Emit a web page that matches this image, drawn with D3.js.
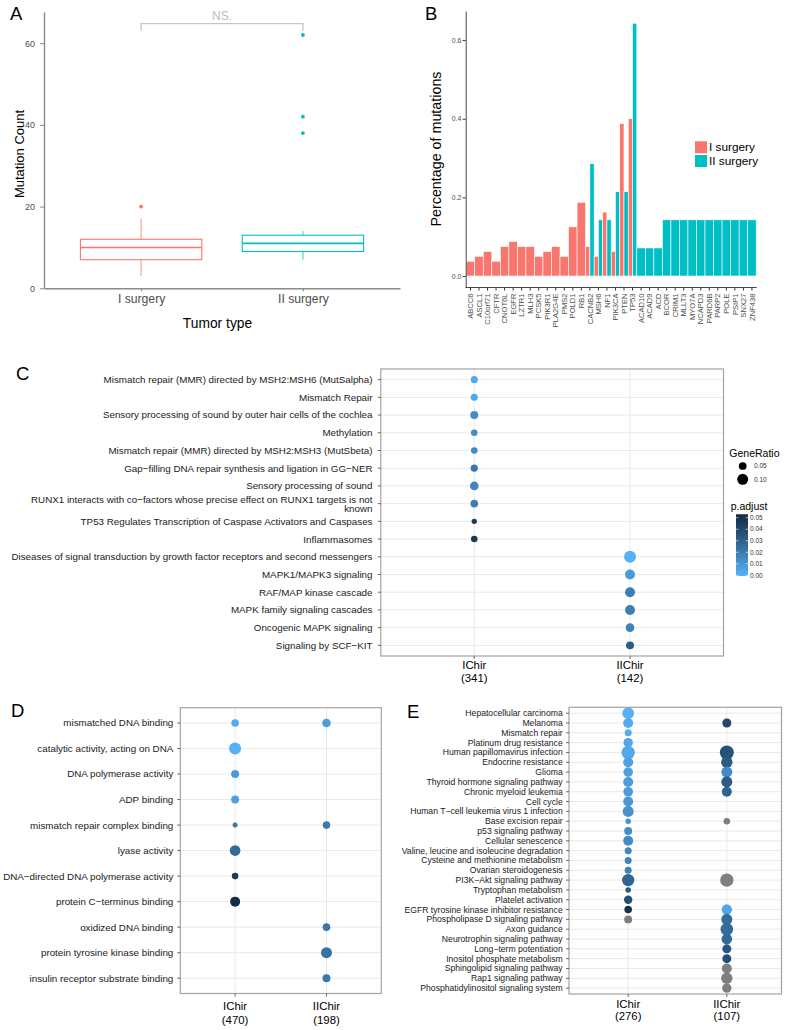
<!DOCTYPE html>
<html><head><meta charset="utf-8">
<script src="https://cdn.jsdelivr.net/npm/d3@7"></script>
<style>
body{margin:0;background:#fff}
svg{display:block}
text{font-family:"Liberation Sans",Arial,Helvetica,sans-serif}
</style>
</head><body>
<svg id="chart" width="788" height="1030"></svg>
<script>
// ---------- Panel A data ----------
const surgeryGroups = ["I surgery", "II surgery"];
const boxQ1 = [7, 9];
const boxMedian = [10, 11];
const boxQ3 = [12, 13];
const whiskerLow = [3, 7];
const whiskerHigh = [17, 14];
const outliersI = [20];
const outliersII = [38, 42, 62];
const countTicks = [0, 20, 40, 60];

// ---------- Panel B data ----------
const genes = ["ABCC6","ASCL1","C10orf71","CFTR","CNOT6L","EGFR","LZTR1","MLH3","PCSK5","PIK3R1","PLA2G4E","PMS2","POLD1","RB1","CACNB2","MSH6","NF1","PIK3CA","PTEN","TP53","ACAD10","ACAD9","ACD","BCOR","CRIM1","MLLT3","MYO7A","NCAPD3","PARD6B","PARP2","POLE","PSIP1","SNX27","ZNF438"];
const pctISurgery = [0.0375,0.05,0.0625,0.0375,0.075,0.0875,0.075,0.075,0.05,0.0625,0.075,0.05,0.125,0.1875,0.075,0.05,0.1625,0.0625,0.3875,0.40,null,null,null,null,null,null,null,null,null,null,null,null,null,null];
const pctIISurgery = [null,null,null,null,null,null,null,null,null,null,null,null,null,null,0.2857,0.1429,0.1429,0.2143,0.2143,0.6429,0.0714,0.0714,0.0714,0.1429,0.1429,0.1429,0.1429,0.1429,0.1429,0.1429,0.1429,0.1429,0.1429,0.1429];
const pctTicks = [0, 0.2, 0.4, 0.6];

// ---------- Panel C data (Reactome) ----------
const reactomeTerms = [
 "Mismatch repair (MMR) directed by MSH2:MSH6 (MutSalpha)",
 "Mismatch Repair",
 "Sensory processing of sound by outer hair cells of the cochlea",
 "Methylation",
 "Mismatch repair (MMR) directed by MSH2:MSH3 (MutSbeta)",
 "Gap\u2212filling DNA repair synthesis and ligation in GG\u2212NER",
 "Sensory processing of sound",
 "RUNX1 interacts with co\u2212factors whose precise effect on RUNX1 targets is not\nknown",
 "TP53 Regulates Transcription of Caspase Activators and Caspases",
 "Inflammasomes",
 "Diseases of signal transduction by growth factor receptors and second messengers",
 "MAPK1/MAPK3 signaling",
 "RAF/MAP kinase cascade",
 "MAPK family signaling cascades",
 "Oncogenic MAPK signaling",
 "Signaling by SCF\u2212KIT"];
const reactomeClusterLabels = ["IChir\n(341)", "IIChir\n(142)"];
const reactomeDotTerm = [0,1,2,3,4,5,6,7,8,9,10,11,12,13,14,15];
const reactomeDotCluster = ["IChir","IChir","IChir","IChir","IChir","IChir","IChir","IChir","IChir","IChir","IIChir","IIChir","IIChir","IIChir","IIChir","IIChir"];
const reactomeDotRatio = [0.041,0.041,0.053,0.036,0.036,0.043,0.062,0.048,0.024,0.036,0.12,0.083,0.083,0.083,0.062,0.053];
const reactomeDotPadj = [0.003,0.004,0.013,0.013,0.014,0.021,0.016,0.019,0.045,0.047,0.0,0.008,0.019,0.018,0.017,0.033];

// ---------- Panel D data (GO) ----------
const goTerms = ["mismatched DNA binding","catalytic activity, acting on DNA","DNA polymerase activity","ADP binding","mismatch repair complex binding","lyase activity","DNA\u2212directed DNA polymerase activity","protein C\u2212terminus binding","oxidized DNA binding","protein tyrosine kinase binding","insulin receptor substrate binding"];
const goClusterLabels = ["IChir\n(470)", "IIChir\n(198)"];
const goDotTerm = [0,0,1,2,3,4,4,5,6,7,8,9,10];
const goDotCluster = ["IChir","IIChir","IChir","IChir","IChir","IChir","IIChir","IChir","IChir","IChir","IIChir","IIChir","IIChir"];
const goDotRatio = [0.048,0.062,0.12,0.053,0.053,0.021,0.048,0.094,0.036,0.083,0.048,0.101,0.053];
const goDotPadj = [0.002,0.007,0.0,0.008,0.006,0.022,0.020,0.027,0.046,0.052,0.021,0.023,0.021];

// ---------- Panel E data (KEGG) ----------
const keggTerms = ["Hepatocellular carcinoma","Melanoma","Mismatch repair","Platinum drug resistance","Human papillomavirus infection","Endocrine resistance","Glioma","Thyroid hormone signaling pathway","Chronic myeloid leukemia","Cell cycle","Human T\u2212cell leukemia virus 1 infection","Base excision repair","p53 signaling pathway","Cellular senescence","Valine, leucine and isoleucine degradation","Cysteine and methionine metabolism","Ovarian steroidogenesis","PI3K\u2212Akt signaling pathway","Tryptophan metabolism","Platelet activation","EGFR tyrosine kinase inhibitor resistance","Phospholipase D signaling pathway","Axon guidance","Neurotrophin signaling pathway","Long\u2212term potentiation","Inositol phosphate metabolism","Sphingolipid signaling pathway","Rap1 signaling pathway","Phosphatidylinositol signaling system"];
const keggClusterLabels = ["IChir\n(276)", "IIChir\n(107)"];
const keggDotTerm = [0,1,2,3,4,5,6,7,8,9,10,11,12,13,14,15,16,17,18,19,20,21, 1,4,5,6,7,8,11,17,20,21,22,23,24,25,26,27,28];
const keggDotCluster = ["IChir","IChir","IChir","IChir","IChir","IChir","IChir","IChir","IChir","IChir","IChir","IChir","IChir","IChir","IChir","IChir","IChir","IChir","IChir","IChir","IChir","IChir",
 "IIChir","IIChir","IIChir","IIChir","IIChir","IIChir","IIChir","IIChir","IIChir","IIChir","IIChir","IIChir","IIChir","IIChir","IIChir","IIChir","IIChir"];
const keggDotRatio = [0.115,0.083,0.041,0.074,0.15,0.083,0.077,0.083,0.077,0.083,0.101,0.026,0.053,0.083,0.041,0.041,0.041,0.128,0.026,0.059,0.048,0.053,
 0.068,0.163,0.108,0.101,0.101,0.083,0.036,0.15,0.09,0.101,0.132,0.094,0.068,0.068,0.083,0.108,0.074];
const keggDotPadj = [0.0,0.002,0.002,0.004,0.003,0.006,0.006,0.007,0.008,0.009,0.011,0.011,0.013,0.014,0.015,0.016,0.017,0.028,0.032,0.037,0.050,null,
 0.040,0.036,0.033,0.014,0.032,0.029,null,null,0.004,0.026,0.026,0.027,0.034,0.038,null,null,null];

// ---------- Legend data ----------
const geneRatioLegend = [0.05, 0.10];
const padjTicks = [0, 0.01, 0.02, 0.03, 0.04, 0.05];

// ================= Drawing =================
const svg = d3.select("#chart");
const RED = "#F8766D", TEAL = "#00BFC4";
const rScale = d3.scaleSqrt().domain([0, 0.12]).range([0, 6]);
const padjColor = d3.scaleLinear().domain([0, 0.053]).range(["#56B1F7", "#132B43"]).interpolate(d3.interpolateLab).clamp(true);
const NA_COLOR = "#7F7F7F";

// Panel letters
[["A", 10, 20], ["B", 425, 20], ["C", 16, 380], ["D", 11, 717], ["E", 407, 718]].forEach(([t, x, y]) => {
  svg.append("text").attr("x", x).attr("y", y).attr("font-size", 18.5).attr("fill", "#000").text(t);
});

// ----- Panel A -----
(function () {
  const g = svg.append("g");
  const x = d3.scalePoint().domain(surgeryGroups).range([44, 400]).padding(0.6);
  const y = d3.scaleLinear().domain([0, 67.7]).range([288.3, 11.7]);
  const cols = [RED, TEAL];
  const bw = x.step() * 0.75;

  const ya = g.append("g").attr("transform", "translate(44,0)")
    .call(d3.axisLeft(y).tickValues(countTicks).tickSize(4).tickSizeOuter(0).tickPadding(5));
  ya.select(".domain").attr("stroke", "#8a8a8a").attr("stroke-width", 1.4);
  ya.selectAll(".tick line").attr("stroke", "#8a8a8a");
  ya.selectAll(".tick text").attr("font-size", 9).attr("fill", "#4d4d4d").attr("font-family", null);

  const xa = g.append("g").attr("transform", "translate(0,288.3)")
    .call(d3.axisBottom(x).tickSize(3).tickSizeOuter(0).tickPadding(2.7));
  xa.select(".domain").attr("stroke", "#8a8a8a").attr("stroke-width", 1.4);
  xa.selectAll(".tick line").attr("stroke", "#8a8a8a");
  xa.selectAll(".tick text").attr("font-size", 12.2).attr("fill", "#4d4d4d").attr("font-family", null);

  surgeryGroups.forEach((grp, i) => {
    const cx = x(grp), c = cols[i];
    g.append("line").attr("x1", cx).attr("x2", cx).attr("y1", y(whiskerLow[i])).attr("y2", y(boxQ1[i])).attr("stroke", c).attr("stroke-width", 1).attr("opacity", 0.8);
    g.append("line").attr("x1", cx).attr("x2", cx).attr("y1", y(boxQ3[i])).attr("y2", y(whiskerHigh[i])).attr("stroke", c).attr("stroke-width", 1).attr("opacity", 0.8);
    g.append("rect").attr("x", cx - bw / 2).attr("y", y(boxQ3[i])).attr("width", bw).attr("height", y(boxQ1[i]) - y(boxQ3[i]))
      .attr("fill", "#fff").attr("stroke", c).attr("stroke-width", 1.1);
    g.append("line").attr("x1", cx - bw / 2).attr("x2", cx + bw / 2).attr("y1", y(boxMedian[i])).attr("y2", y(boxMedian[i])).attr("stroke", c).attr("stroke-width", 1.6);
    const outs = i === 0 ? outliersI : outliersII;
    g.selectAll(null).data(outs).join("circle").attr("cx", cx).attr("cy", d => y(d)).attr("r", 1.9).attr("fill", c);
  });

  // NS bracket
  const x1 = x(surgeryGroups[0]), x2 = x(surgeryGroups[1]);
  g.append("path").attr("d", `M${x1},${y(63)}V${y(64.8)}H${x2}V${y(63)}`).attr("fill", "none").attr("stroke", "#c6c6c6").attr("stroke-width", 1.3);
  g.append("text").attr("x", (x1 + x2) / 2).attr("y", 19.5).attr("text-anchor", "middle").attr("font-size", 12).attr("fill", "#bdbdbd").text("NS.");

  g.append("text").attr("transform", "translate(24,154) rotate(-90)").attr("text-anchor", "middle").attr("font-size", 13).attr("fill", "#000").text("Mutation Count");
  g.append("text").attr("x", 217.5).attr("y", 327.6).attr("text-anchor", "middle").attr("font-size", 13.8).attr("fill", "#000").text("Tumor type");
})();

// ----- Panel B -----
(function () {
  const g = svg.append("g");
  const x = d3.scaleBand().domain(genes).range([466.2, 756.2]).padding(0);
  const y = d3.scaleLinear().domain([-0.0292, 0.674]).range([287.5, 11]);
  const bw = x.bandwidth();
  const bars = [];
  genes.forEach((gname, i) => {
    const a = pctISurgery[i], b = pctIISurgery[i];
    const x0 = x(gname);
    if (a != null && b != null) {
      bars.push({ x: x0, w: bw / 2, v: a, c: RED });
      bars.push({ x: x0 + bw / 2, w: bw / 2, v: b, c: TEAL });
    } else if (a != null) bars.push({ x: x0, w: bw, v: a, c: RED });
    else if (b != null) bars.push({ x: x0, w: bw, v: b, c: TEAL });
  });
  g.selectAll("rect").data(bars).join("rect")
    .attr("x", d => d.x).attr("width", d => d.w)
    .attr("y", d => y(d.v)).attr("height", d => y(0) - y(d.v))
    .attr("fill", d => d.c).attr("stroke", "#fff").attr("stroke-width", 0.6);

  const ya = g.append("g").attr("transform", "translate(465.7,0)")
    .call(d3.axisLeft(y).tickValues(pctTicks).tickFormat(d3.format(".1f")).tickSize(3).tickSizeOuter(0).tickPadding(1.2));
  ya.select(".domain").attr("stroke", "#333").attr("stroke-width", 0.9);
  ya.selectAll(".tick line").attr("stroke", "#333");
  ya.selectAll(".tick text").attr("font-size", 7).attr("fill", "#4d4d4d").attr("font-family", null);

  const xa = g.append("g").attr("transform", "translate(0,287.5)")
    .call(d3.axisBottom(x).tickSize(3).tickSizeOuter(0));
  xa.select(".domain").attr("stroke", "#333").attr("stroke-width", 0.9).attr("d", "M465.7,0H756.7");
  xa.selectAll(".tick line").attr("stroke", "#333");
  xa.selectAll(".tick text").attr("font-size", 7.6).attr("fill", "#4d4d4d").attr("font-family", null)
    .attr("transform", "rotate(-90)").attr("text-anchor", "end").attr("x", -6).attr("y", 0).attr("dy", "0.35em");

  g.append("text").attr("transform", "translate(440.5,149) rotate(-90)").attr("text-anchor", "middle").attr("font-size", 14.3).attr("fill", "#000").text("Percentage of mutations");

  const legItems = [["I surgery", RED, 141.3], ["II surgery", TEAL, 155]];
  legItems.forEach(([t, c, yy]) => {
    g.append("rect").attr("x", 695).attr("y", yy).attr("width", 12).attr("height", 12).attr("fill", c);
    g.append("text").attr("x", 709).attr("y", yy + 6).attr("dy", "0.35em").attr("font-size", 11.8).attr("fill", "#000").text(t);
  });
})();

// ----- Dot panels -----
function dotPanel(o) {
  const g = svg.append("g");
  const x = d3.scalePoint().domain(["IChir", "IIChir"]).range(o.xRange).padding(0.6);
  const y = d3.scalePoint().domain(o.terms).range([o.top, o.bottom]).padding(0.6);
  const gg = g.append("g");
  gg.selectAll("line.h").data(o.terms).join("line").attr("class", "h")
    .attr("x1", o.left).attr("x2", o.right).attr("y1", d => y(d)).attr("y2", d => y(d))
    .attr("stroke", "#e9e9e9").attr("stroke-width", 1);
  gg.selectAll("line.v").data(x.domain()).join("line").attr("class", "v")
    .attr("x1", d => x(d)).attr("x2", d => x(d)).attr("y1", o.top).attr("y2", o.bottom)
    .attr("stroke", "#e9e9e9").attr("stroke-width", 1);
  g.append("g").selectAll("circle").data(d3.range(o.dotTerm.length)).join("circle")
    .attr("cx", i => x(o.dotCluster[i]))
    .attr("cy", i => y(o.terms[o.dotTerm[i]]))
    .attr("r", i => rScale(o.dotRatio[i]))
    .attr("fill", i => o.dotPadj[i] == null ? NA_COLOR : padjColor(o.dotPadj[i]));
  g.append("rect").attr("x", o.left).attr("y", o.top).attr("width", o.right - o.left).attr("height", o.bottom - o.top)
    .attr("fill", "none").attr("stroke", "#a3a3a3").attr("stroke-width", 1.2);
  const yl = g.append("g");
  o.terms.forEach(t => {
    const yc = y(t);
    yl.append("line").attr("x1", o.left - 3).attr("x2", o.left).attr("y1", yc).attr("y2", yc).attr("stroke", "#444").attr("stroke-width", 0.8);
    const lines = t.split("\n");
    const lh = o.fs * 0.92;
    const txt = yl.append("text").attr("text-anchor", "end").attr("font-size", o.fs).attr("fill", "#1a1a1a");
    lines.forEach((ln, k) => {
      txt.append("tspan").attr("x", o.left - o.labelGap)
        .attr("y", yc - (lines.length - 1) * lh / 2 + k * lh + 0.35 * o.fs).text(ln);
    });
  });
  x.domain().forEach((c, i) => {
    const xc = x(c);
    g.append("line").attr("x1", xc).attr("x2", xc).attr("y1", o.bottom).attr("y2", o.bottom + 3).attr("stroke", "#444").attr("stroke-width", 0.8);
    const lines = o.clusterLabels[i].split("\n");
    lines.forEach((ln, k) => {
      g.append("text").attr("x", xc).attr("y", o.bottom + o.xl[k]).attr("text-anchor", "middle")
        .attr("font-size", 11.4).attr("fill", "#000").text(ln);
    });
  });
}

dotPanel({ terms: reactomeTerms, dotTerm: reactomeDotTerm, dotCluster: reactomeDotCluster, dotRatio: reactomeDotRatio, dotPadj: reactomeDotPadj,
  clusterLabels: reactomeClusterLabels, left: 380.8, right: 723.5, top: 369, bottom: 656, xRange: [380.8, 723.5], fs: 9.8, labelGap: 8.3, xl: [13, 26.3] });
dotPanel({ terms: goTerms, dotTerm: goDotTerm, dotCluster: goDotCluster, dotRatio: goDotRatio, dotPadj: goDotPadj,
  clusterLabels: goClusterLabels, left: 180.3, right: 381.3, top: 707.7, bottom: 993.5, xRange: [180.3, 381.3], fs: 9.8, labelGap: 7, xl: [16.5, 30.5] });
dotPanel({ terms: keggTerms, dotTerm: keggDotTerm, dotCluster: keggDotCluster, dotRatio: keggDotRatio, dotPadj: keggDotPadj,
  clusterLabels: keggClusterLabels, left: 569, right: 781.5, top: 707.3, bottom: 994, xRange: [569, 786], fs: 8.65, labelGap: 6.3, xl: [14, 26.4] });

// ----- Legends (panel C) -----
(function () {
  const g = svg.append("g");
  g.append("text").attr("x", 729.3).attr("y", 456.5).attr("font-size", 10.5).attr("fill", "#000").text("GeneRatio");
  const ly = [466, 479.3];
  geneRatioLegend.forEach((v, i) => {
    g.append("circle").attr("cx", 742.7).attr("cy", ly[i]).attr("r", rScale(v)).attr("fill", "#000");
    g.append("text").attr("x", 754).attr("y", ly[i]).attr("dy", "0.35em").attr("font-size", 6.5).attr("fill", "#333").text(d3.format(".2f")(v));
  });
  g.append("text").attr("x", 730.7).attr("y", 510.3).attr("font-size", 10.5).attr("fill", "#000").text("p.adjust");
  const yCb = d3.scaleLinear().domain([0, 0.05]).range([575.3, 517.7]);
  const pLo = -0.0006, pHi = 0.053;
  const defs = svg.append("defs");
  const grad = defs.append("linearGradient").attr("id", "padjGrad").attr("x1", 0).attr("y1", 1).attr("x2", 0).attr("y2", 0);
  d3.range(0, 1.0001, 0.1).forEach(t => {
    grad.append("stop").attr("offset", t).attr("stop-color", padjColor(pLo + t * (pHi - pLo)));
  });
  const cbX = 736, cbW = 12;
  g.append("rect").attr("x", cbX).attr("y", yCb(pHi)).attr("width", cbW).attr("height", yCb(pLo) - yCb(pHi)).attr("fill", "url(#padjGrad)");
  padjTicks.forEach(v => {
    g.append("line").attr("x1", cbX).attr("x2", cbX + 2.4).attr("y1", yCb(v)).attr("y2", yCb(v)).attr("stroke", "#fff").attr("stroke-width", 0.6);
    g.append("line").attr("x1", cbX + cbW - 2.4).attr("x2", cbX + cbW).attr("y1", yCb(v)).attr("y2", yCb(v)).attr("stroke", "#fff").attr("stroke-width", 0.6);
    g.append("text").attr("x", 750).attr("y", yCb(v)).attr("dy", "0.35em").attr("font-size", 6.5).attr("fill", "#333").text(d3.format(".2f")(v));
  });
})();
</script>
</body></html>
